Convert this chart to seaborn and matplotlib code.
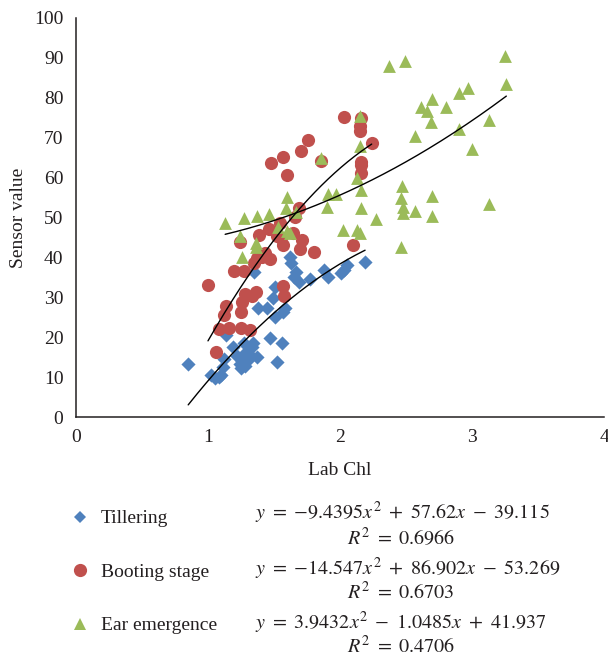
import numpy as np
import pandas as pd
import matplotlib
matplotlib.use("Agg")
import matplotlib.pyplot as plt
import seaborn as sns
from matplotlib.lines import Line2D

# ---------------- data ----------------
stages = ["Tillering", "Booting stage", "Ear emergence"]

till_x = [0.85, 1.02, 1.05, 1.08, 1.10, 1.11, 1.12, 1.14, 1.19, 1.22, 1.24, 1.25, 1.26, 1.27, 1.28,
          1.29, 1.30, 1.31, 1.33, 1.34, 1.35, 1.37, 1.38, 1.45, 1.47, 1.49, 1.51, 1.52, 1.51, 1.56,
          1.57, 1.58, 1.62, 1.63, 1.65, 1.67, 1.69, 1.77, 1.875, 1.91, 2.01, 2.03, 2.05, 2.19]
till_y = [13.4, 10.5, 9.8, 10.0, 10.5, 12.6, 14.5, 20.5, 17.6, 15.3, 13.2, 12.2, 14.0, 18.5, 12.8,
          16.4, 14.3, 15.8, 17.5, 18.5, 36.4, 15.1, 27.2, 27.2, 19.7, 29.7, 25.1, 13.9, 32.7, 18.5,
          26.3, 27.2, 40.2, 38.5, 35.2, 36.4, 33.9, 34.5, 36.8, 35.2, 36.0, 36.8, 38.1, 38.8]

boot_x = [1.00, 1.06, 1.085, 1.12, 1.14, 1.16, 1.20, 1.24, 1.25, 1.25, 1.26, 1.27, 1.28, 1.32, 1.33,
          1.36, 1.35, 1.37, 1.39, 1.41, 1.43, 1.46, 1.47, 1.48, 1.52, 1.545, 1.55, 1.565, 1.57, 1.57,
          1.575, 1.60, 1.645, 1.66, 1.69, 1.70, 1.705, 1.715, 1.76, 1.80, 1.856, 2.03, 2.10, 2.15,
          2.15, 2.16, 2.16, 2.16, 2.16, 2.24]
boot_y = [33.2, 16.3, 22.1, 25.6, 27.9, 22.3, 36.6, 43.9, 22.2, 26.2, 28.8, 36.6, 30.9, 21.8, 30.3,
          31.3, 38.6, 39.8, 45.6, 40.2, 41.0, 47.2, 39.7, 63.6, 45.3, 48.7, 44.8, 43.2, 65.1, 32.8,
          30.4, 60.7, 46.2, 50.2, 52.3, 42.0, 66.7, 44.3, 69.3, 41.3, 64.2, 75.1, 43.0, 71.6,
          72.9, 74.9, 64.0, 63.2, 61.1, 68.6]

ear_x = [1.13, 1.24, 1.255, 1.27, 1.36, 1.36, 1.37, 1.46, 1.53, 1.59, 1.595, 1.60, 1.62, 1.67, 1.854,
         1.90, 1.91, 1.97, 2.02, 2.13, 2.13, 2.15, 2.15, 2.15, 2.16, 2.16, 2.27, 2.37, 2.46, 2.46,
         2.47, 2.48, 2.48, 2.49, 2.57, 2.57, 2.61, 2.66, 2.69, 2.70, 2.70, 2.70, 2.80, 2.90, 2.90,
         2.97, 3.00, 3.13, 3.13, 3.25, 3.26]
ear_y = [48.5, 45.4, 40.2, 49.8, 43.5, 42.6, 50.4, 51.0, 47.7, 52.5, 55.2, 46.7, 46.0, 51.5, 64.8,
         52.6, 56.0, 55.8, 46.9, 46.9, 59.8, 46.0, 67.9, 75.4, 56.9, 52.5, 49.5, 88.0, 42.6, 55.0,
         57.8, 52.7, 51.1, 89.3, 51.7, 70.4, 77.8, 76.7, 74.0, 79.6, 55.5, 50.3, 77.8, 81.3, 72.3,
         82.4, 67.2, 74.4, 53.4, 90.5, 83.5]

# quadratic trend coefficients (a, b, c) and R^2 as printed in the chart
till_coef = [-9.4395, 57.62, -39.115]
boot_coef = [-14.547, 86.902, -53.269]
ear_coef = [3.9432, -1.0485, 41.937]
r2_values = [0.6966, 0.6703, 0.4706]
eq_texts = [r"$y\ =\ {-}9.4395x^2\ +\ 57.62x\ -\ 39.115$",
            r"$y\ =\ {-}14.547x^2\ +\ 86.902x\ -\ 53.269$",
            r"$y\ =\ 3.9432x^2\ -\ 1.0485x\ +\ 41.937$"]

x_ticks = [0, 1, 2, 3, 4]
y_ticks = [0, 10, 20, 30, 40, 50, 60, 70, 80, 90, 100]

# ---------------- styling ----------------
sns.set_theme(style="white")
plt.rcParams["font.family"] = ["Liberation Serif", "DejaVu Serif"]
plt.rcParams["mathtext.fontset"] = "stix"

ink = "#231F20"
colors = {"Tillering": "#4F81BD", "Booting stage": "#C0504D", "Ear emergence": "#9BBB59"}
markers = {"Tillering": "D", "Booting stage": "o", "Ear emergence": "^"}
sizes = {"Tillering": 52, "Booting stage": 90, "Ear emergence": 85}

df = pd.concat([
    pd.DataFrame({"Lab Chl": till_x, "Sensor value": till_y, "Stage": stages[0]}),
    pd.DataFrame({"Lab Chl": boot_x, "Sensor value": boot_y, "Stage": stages[1]}),
    pd.DataFrame({"Lab Chl": ear_x, "Sensor value": ear_y, "Stage": stages[2]}),
], ignore_index=True)

W, H = 608, 658
fig = plt.figure(figsize=(W / 100, H / 100), dpi=100)
ax = fig.add_axes([76 / W, 1 - 417 / H, (604 - 76) / W, (417 - 18) / H])

for st in stages:
    sub = df[df["Stage"] == st]
    sns.scatterplot(data=sub, x="Lab Chl", y="Sensor value", color=colors[st],
                    marker=markers[st], s=sizes[st], linewidth=0, ax=ax,
                    legend=False, zorder=2)

# trend lines
for coef, xs in zip([till_coef, boot_coef, ear_coef], [till_x, boot_x, ear_x]):
    xx = np.linspace(min(xs), max(xs), 200)
    yy = np.polyval(coef, xx)
    sns.lineplot(x=xx, y=yy, color="black", linewidth=1.0, ax=ax, zorder=3, legend=False)

if ax.get_legend() is not None:
    ax.get_legend().remove()

ax.set_xlim(0, 4)
ax.set_ylim(0, 100)
ax.set_xticks(x_ticks)
ax.set_yticks(y_ticks)
ax.tick_params(axis="both", length=0, labelsize=14, colors=ink)
ax.tick_params(axis="x", pad=9)
ax.tick_params(axis="y", pad=9)
for side in ["top", "right"]:
    ax.spines[side].set_visible(False)
for side in ["left", "bottom"]:
    ax.spines[side].set_color(ink)
    ax.spines[side].set_linewidth(1.1)
ax.set_xlabel("Lab Chl", fontsize=14, labelpad=11, color=ink)
ax.set_ylabel("Sensor value", fontsize=14, labelpad=5, color=ink)
ax.grid(False)

# legend (markers + names)
handles = [Line2D([], [], linestyle="none", marker=markers[st], color=colors[st],
                  markersize={"Tillering": 6, "Booting stage": 9.5, "Ear emergence": 8.5}[st],
                  markeredgewidth=0) for st in stages]
fig.legend(handles, stages, loc="upper left", bbox_to_anchor=(61 / W, 1 - 500 / H),
           frameon=False, fontsize=14, handlelength=1.0, handletextpad=0.55,
           labelspacing=1.85, borderpad=0, labelcolor=ink)

# equations with R^2 (one left-aligned text block per series, R^2 indented)
eq_y = [525, 580, 634]
for txt, r2, yp in zip(eq_texts, r2_values, eq_y):
    r2_line = r"$\qquad\qquad\qquad\ R^2\ =\ %.4f$" % r2
    fig.text(255 / W, 1 - yp / H, txt + "\n" + r2_line, ha="left",
             va="center", multialignment="left", linespacing=1.02, fontsize=14.5, color=ink)

fig.savefig("out.png", dpi=100)
